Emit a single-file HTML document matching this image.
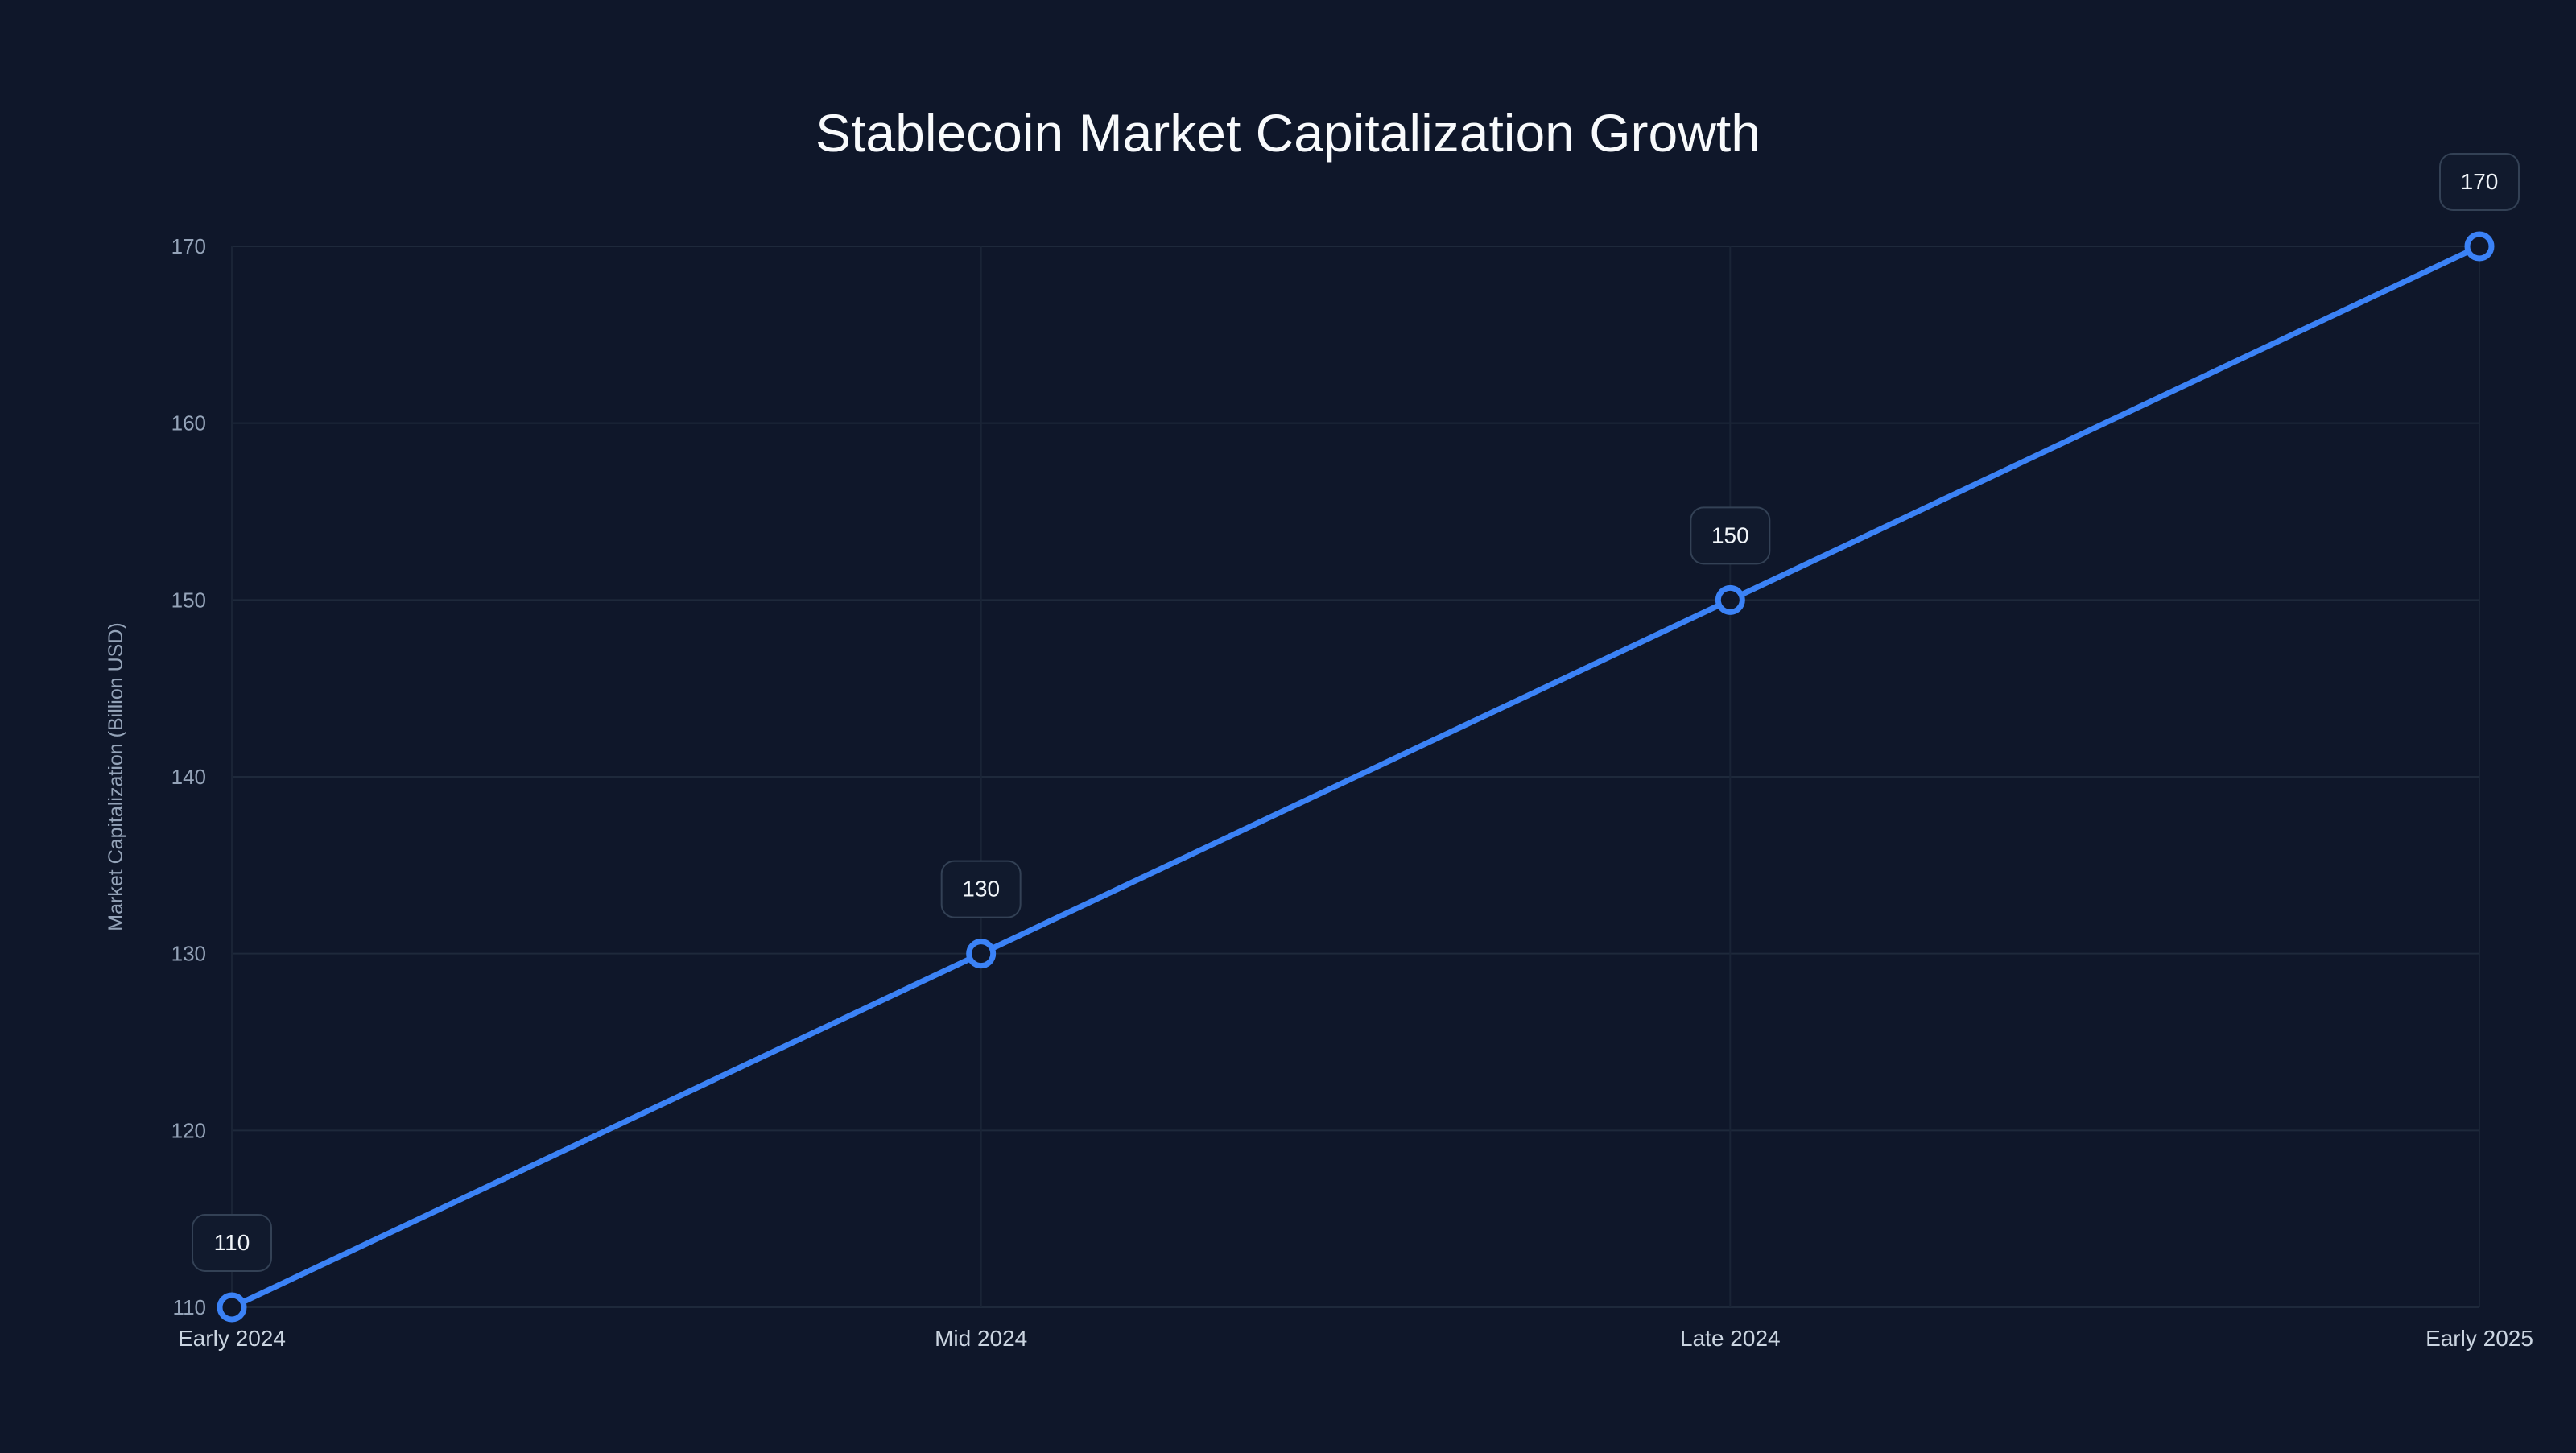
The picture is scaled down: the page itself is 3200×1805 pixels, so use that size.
<!DOCTYPE html>
<html><head><meta charset="utf-8">
<style>
html,body{margin:0;padding:0;background:#0f172a;}
svg text{font-family:"Liberation Sans",sans-serif;}
</style></head>
<body>
<svg id="chart" width="3200" height="1800" viewBox="0 0 3200 1800" xmlns="http://www.w3.org/2000/svg">
<rect width="3200" height="1800" fill="#0f172a"/>
<text x="1600" y="188" text-anchor="middle" fill="#f8fafc" font-size="66">Stablecoin Market Capitalization Growth</text>
<text transform="translate(152,965) rotate(-90)" text-anchor="middle" fill="#94a3b8" font-size="25">Market Capitalization (Billion USD)</text>
<g id="grid"></g>
<g id="axes"></g>
<g id="series"></g>
</svg>
<script>
const categories = ["Early 2024","Mid 2024","Late 2024","Early 2025"];
const values = [110,130,150,170];
const yTicks = [110,120,130,140,150,160,170];

const NS="http://www.w3.org/2000/svg";
const L=288,R=3080,T=306,B=1624,yMin=110,yMax=170;
const xPos=i=>L+(R-L)*i/(categories.length-1);
const yPos=v=>B-(v-yMin)/(yMax-yMin)*(B-T);
function mk(tag,attrs,parent){const e=document.createElementNS(NS,tag);for(const k in attrs)e.setAttribute(k,attrs[k]);parent.appendChild(e);return e;}
const grid=document.getElementById('grid'),axes=document.getElementById('axes'),series=document.getElementById('series');

yTicks.forEach(v=>{
  const g=mk('line',{x1:L,x2:R,y1:yPos(v),y2:yPos(v),stroke:'#1e293b','stroke-width':2},grid);
  
  
  const t=mk('text',{x:L-32,y:yPos(v)+9,'text-anchor':'end',fill:'#94a3b8','font-size':26},axes);
  t.textContent=v;
  
  
});
categories.forEach((c,i)=>{
  const g=mk('line',{x1:xPos(i),x2:xPos(i),y1:T,y2:B,stroke:'#1a2436','stroke-width':2},grid);
  
  
  const t=mk('text',{x:xPos(i),y:B+48,'text-anchor':'middle',fill:'#cbd5e1','font-size':28},axes);
  t.textContent=c;
  
  
});
const pts=values.map((v,i)=>xPos(i)+','+yPos(v)).join(' ');
const line=mk('polyline',{points:pts,fill:'none',stroke:'#3b82f6','stroke-width':7,'stroke-linejoin':'round'},series);


values.forEach((v,i)=>{
  const x=xPos(i),y=yPos(v);
  const c=mk('circle',{cx:x,cy:y,r:15,fill:'#0f172a',stroke:'#3b82f6','stroke-width':7},series);
  
  
  const b=mk('rect',{x:x-49,y:y-115,width:98,height:70,rx:16,fill:'#111a2d',stroke:'#334155','stroke-width':2},series);
  
  
  const t=mk('text',{x:x,y:y-71,'text-anchor':'middle',fill:'#f1f5f9','font-size':28},series);
  t.textContent=v;
  
  
});
</script>
</body></html>
